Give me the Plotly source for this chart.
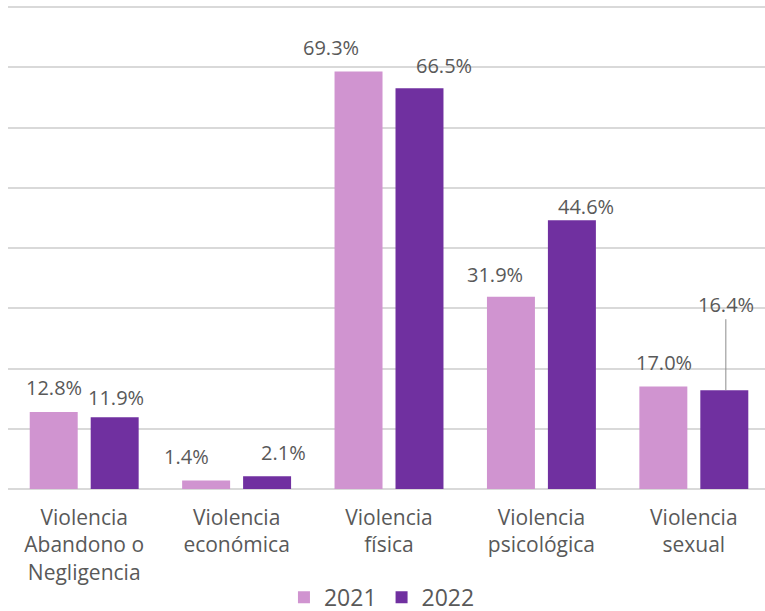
import plotly.graph_objects as go

categories = ["Violencia<br>Abandono o<br>Negligencia", "Violencia<br>económica",
              "Violencia<br>física", "Violencia<br>psicológica", "Violencia<br>sexual"]
years = ["2021", "2022"]
values_2021 = [12.8, 1.4, 69.3, 31.9, 17.0]
values_2022 = [11.9, 2.1, 66.5, 44.6, 16.4]

colors = {"2021": "#D094D0", "2022": "#7030A0"}

# label placement style (pixel offsets from category center / bar top)
xshift_2021 = [-30.5, -50.5, -58.5, -46.5, -30]
xshift_2022 = [31.5, 46.5, 54.5, 44.5, 32]
yshift_2021 = [24, 24, 24, 22, 24]
yshift_2022 = [20, 24, 23, 14, 86]
leader_2022 = [False, False, False, False, True]

fig = go.Figure()
for yr, vals in zip(years, [values_2021, values_2022]):
    fig.add_trace(go.Bar(x=categories, y=vals, name=yr,
                         marker=dict(color=colors[yr], line=dict(width=0))))

lab_font = dict(family="Open Sans", size=20, color="#595959")
annotations = []
for i, c in enumerate(categories):
    annotations.append(dict(x=c, y=values_2021[i], text=f"{values_2021[i]:.1f}%",
                            showarrow=False, xshift=xshift_2021[i], yshift=yshift_2021[i],
                            yanchor="middle", font=lab_font))
    if leader_2022[i]:
        annotations.append(dict(x=c, y=values_2022[i], text=f"{values_2022[i]:.1f}%",
                                showarrow=True, arrowhead=0, arrowwidth=1,
                                arrowcolor="#8c8c8c", ax=0, ay=-yshift_2022[i],
                                xshift=xshift_2022[i], yanchor="middle", font=lab_font))
    else:
        annotations.append(dict(x=c, y=values_2022[i], text=f"{values_2022[i]:.1f}%",
                                showarrow=False, xshift=xshift_2022[i], yshift=yshift_2022[i],
                                yanchor="middle", font=lab_font))

fig.update_layout(
    width=765, height=611,
    margin=dict(l=8, r=0, t=1, b=122, autoexpand=False),
    paper_bgcolor="white", plot_bgcolor="white",
    barmode="group", bargap=0.2, bargroupgap=0.213,
    showlegend=True,
    legend=dict(orientation="h", x=0.494, xanchor="center", y=-0.222, yanchor="middle",
                font=dict(family="Open Sans", size=23, color="#595959"),
                itemwidth=30, tracegroupgap=0),
    annotations=annotations,
    font=dict(family="Open Sans", color="#595959"),
    shapes=[dict(type="line", xref="paper", yref="y", x0=0, x1=1, y0=80, y1=80,
                 line=dict(color="#D9D9D9", width=2), layer="above")],
)
fig.update_xaxes(range=[-0.5, 4.467], showgrid=False, showline=False, zeroline=False,
                 ticks="", tickfont=dict(family="Open Sans", size=21, color="#595959"),
                 ticklabelstandoff=14, automargin=False, fixedrange=True)
fig.update_yaxes(range=[0, 81], dtick=10, showgrid=True, gridcolor="#D9D9D9", gridwidth=1.5,
                 zeroline=True, zerolinecolor="#D9D9D9", zerolinewidth=1.5,
                 showticklabels=False, ticks="", automargin=False, fixedrange=True)

fig.write_html("out.html", config={"displayModeBar": False},
               post_script="document.body.style.margin='0';")
